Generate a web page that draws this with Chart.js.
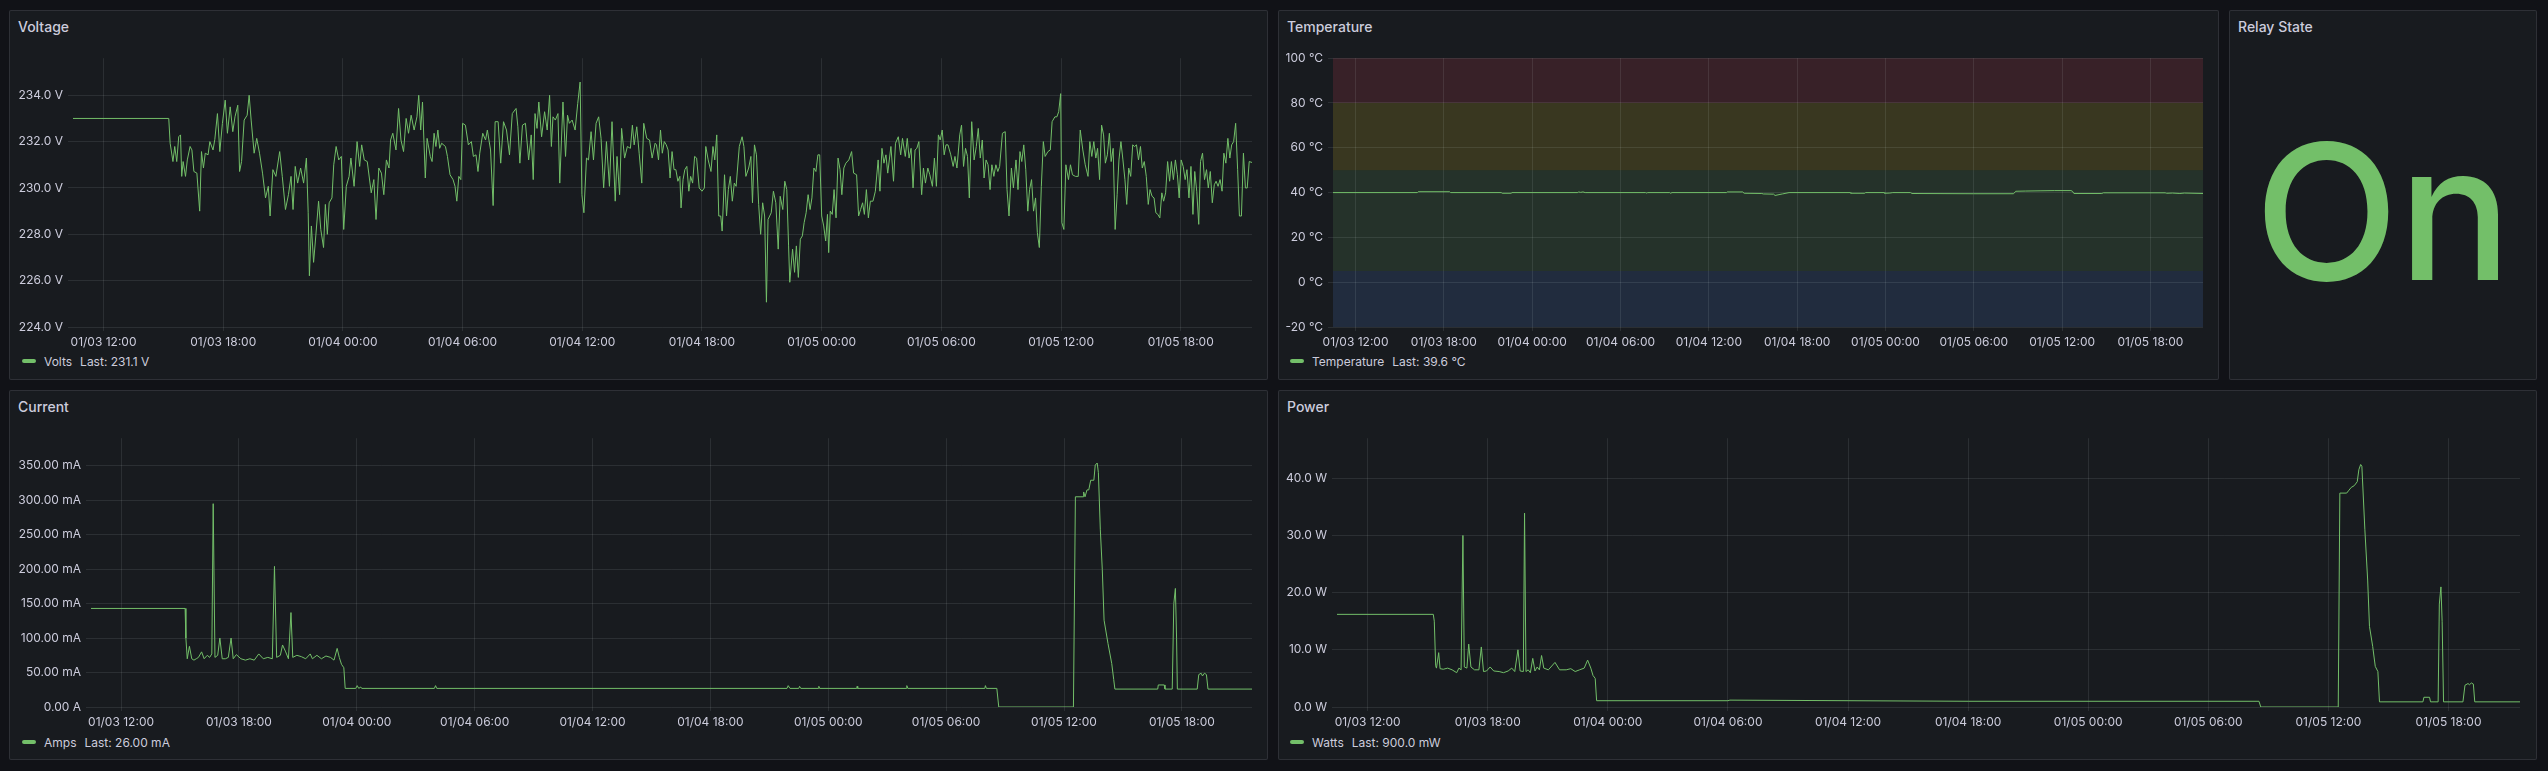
<!DOCTYPE html>
<html>
<head>
<meta charset="utf-8">
<script src="https://cdn.jsdelivr.net/npm/chart.js@4.4.0/dist/chart.umd.min.js"></script>
<style>
  html, body { margin: 0; padding: 0; }
  body { background: #111217; width: 2548px; height: 771px; overflow: hidden; position: relative; font-family: Inter, "Noto Sans", sans-serif; }
  .panel { position: absolute; background: #181b1f; border: 1px solid rgba(204,204,220,0.12); border-radius: 2px; box-sizing: border-box; }
  .title { position: absolute; left: 8px; top: 7px; font-size: 14px; font-weight: 500; line-height: 18px; color: #ccccdc; }
  .box { position: absolute; }
  .legend { position: absolute; height: 16px; display: flex; align-items: center; font-size: 12px; color: #ccccdc; white-space: pre; }
  .legend i { display: inline-block; width: 14px; height: 4px; border-radius: 2px; background: #73BF69; margin-right: 8px; }
  .legend span { margin-left: 8px; }
  .stat { position: absolute; text-align: center; color: #73BF69; font-size: 188px; line-height: 188px; font-weight: 500; }
</style>
</head>
<body>

<div class="panel" style="left:9px;top:10px;width:1259px;height:370px"><div class="title">Voltage</div></div>
<div class="panel" style="left:1278px;top:10px;width:941px;height:370px"><div class="title">Temperature</div></div>
<div class="panel" style="left:2229px;top:10px;width:308px;height:370px"><div class="title">Relay State</div></div>
<div class="panel" style="left:9px;top:390px;width:1259px;height:370px"><div class="title">Current</div></div>
<div class="panel" style="left:1278px;top:390px;width:1259px;height:370px"><div class="title">Power</div></div>

<div class="box" style="left:10px;top:46px;width:1257px;height:307px"><canvas id="voltage"></canvas></div>
<div class="box" style="left:1279px;top:46px;width:939px;height:307px"><canvas id="temperature"></canvas></div>
<div class="box" style="left:10px;top:426px;width:1257px;height:307px"><canvas id="current"></canvas></div>
<div class="box" style="left:1279px;top:426px;width:1257px;height:307px"><canvas id="power"></canvas></div>

<div class="legend" style="left:22px;top:353px"><i></i>Volts<span>Last: 231.1 V</span></div>
<div class="legend" style="left:1290px;top:353px"><i></i>Temperature<span>Last: 39.6 °C</span></div>
<div class="legend" style="left:22px;top:734px"><i></i>Amps<span>Last: 26.00 mA</span></div>
<div class="legend" style="left:1290px;top:734px"><i></i>Watts<span>Last: 900.0 mW</span></div>

<div class="stat" id="relay" style="left:2229px;top:118px;width:308px"></div>

<script>
// time is hours since 01/03 00:00
const timeMin = 10.47;
const timeMax = 69.57;
const timeTicks = [12, 18, 24, 30, 36, 42, 48, 54, 60, 66];
const timeTickLabels = ['01/03 12:00', '01/03 18:00', '01/04 00:00', '01/04 06:00', '01/04 12:00',
  '01/04 18:00', '01/05 00:00', '01/05 06:00', '01/05 12:00', '01/05 18:00'];

const relayState = 'On';

// [hour, volts]
const volts = [[10.47,233],[15.27,233],
[15.34,231.93],[15.48,231.14],[15.57,231.79],[15.67,231.14],[15.77,232.21],[15.86,232.29],[15.92,230.5],[15.99,231.14],[16.11,230.5],[16.2,231.21],[16.34,231.79],[16.43,231.64],[16.53,230.71],[16.68,230.64],[16.82,229.0],[16.91,231.57],[17.01,230.86],[17.1,231.5],[17.24,231.43],[17.33,232.0],[17.49,231.64],[17.58,232.1],[17.71,233.21],[17.83,231.57],[17.96,232.79],[18.1,233.79],[18.21,232.36],[18.35,233.5],[18.48,232.43],[18.59,233.07],[18.73,233.57],[18.82,230.71],[18.92,231.14],[19.05,232.93],[19.2,233.14],[19.3,234.0],[19.4,232.93],[19.55,231.5],[19.68,232.14],[19.82,231.5],[19.97,230.64],[20.12,229.57],[20.26,230.07],[20.35,228.79],[20.49,230.79],[20.64,230.5],[20.83,231.57],[20.96,230.5],[21.12,229.07],[21.27,229.71],[21.4,230.5],[21.5,229.07],[21.61,230.93],[21.73,230.21],[21.88,230.86],[22.03,230.21],[22.17,231.29],[22.26,228.93],[22.32,226.21],[22.42,228.36],[22.53,226.79],[22.64,227.93],[22.78,229.43],[22.89,228.21],[23.03,227.43],[23.12,229.29],[23.22,228.0],[23.31,229.36],[23.45,229.57],[23.54,231.0],[23.66,231.79],[23.79,231.21],[23.92,231.36],[24.04,228.21],[24.17,230.07],[24.31,230.5],[24.4,231.29],[24.56,230.07],[24.71,232.0],[24.84,230.93],[24.94,231.86],[25.07,231.21],[25.22,231.14],[25.42,229.79],[25.55,230.36],[25.66,228.64],[25.8,230.86],[25.93,230.64],[26.05,229.71],[26.18,231.21],[26.31,230.86],[26.39,232.07],[26.5,232.36],[26.66,231.64],[26.79,233.43],[26.91,232.07],[27.04,231.57],[27.17,233.0],[27.29,232.36],[27.42,233.14],[27.57,232.5],[27.71,233.07],[27.8,234.0],[27.9,232.5],[27.99,233.71],[28.13,230.43],[28.22,232.14],[28.38,231.36],[28.47,231.14],[28.57,232.36],[28.66,231.79],[28.76,232.5],[28.85,231.71],[28.95,231.93],[29.14,231.79],[29.24,231.36],[29.37,230.57],[29.52,230.36],[29.62,230.07],[29.71,229.43],[29.81,230.5],[29.91,230.36],[30.0,232.79],[30.14,232.71],[30.29,231.86],[30.44,232.0],[30.54,231.36],[30.67,231.43],[30.77,230.71],[30.86,231.5],[31.01,232.36],[31.15,232.07],[31.24,232.5],[31.4,231.64],[31.53,229.24],[31.63,232.86],[31.78,232.86],[31.91,231.07],[32.05,232.86],[32.2,232.5],[32.35,231.43],[32.49,233.21],[32.68,233.43],[32.77,232.64],[32.87,231.07],[33.0,232.71],[33.15,232.79],[33.31,231.21],[33.44,232.29],[33.54,230.36],[33.63,233.21],[33.73,232.57],[33.82,233.71],[33.96,232.21],[34.11,233.29],[34.24,232.5],[34.36,234.0],[34.45,231.79],[34.53,233.07],[34.65,232.93],[34.78,233.21],[34.87,230.21],[35.03,233.71],[35.16,231.36],[35.26,233.14],[35.35,232.79],[35.49,232.93],[35.64,232.5],[35.77,233.64],[35.89,234.57],[35.98,229.71],[36.08,228.93],[36.21,231.29],[36.31,231.21],[36.44,232.43],[36.56,231.21],[36.69,232.79],[36.82,233.07],[36.94,232.14],[37.07,230.0],[37.21,232.0],[37.36,230.07],[37.49,232.86],[37.65,229.43],[37.74,231.36],[37.87,229.71],[37.97,232.57],[38.12,231.29],[38.26,231.79],[38.41,231.71],[38.51,232.71],[38.6,231.86],[38.73,232.64],[38.85,231.5],[38.98,230.21],[39.08,232.79],[39.23,232.14],[39.37,232.07],[39.5,231.29],[39.65,231.93],
[39.72,231.86],[39.82,231.21],[39.92,232.5],[40.01,231.5],[40.11,232.0],[40.21,231.86],[40.3,231.64],[40.4,230.43],[40.5,231.57],[40.6,230.79],[40.69,230.79],[40.79,230.29],[40.89,230.5],[40.95,229.14],[41.05,230.36],[41.14,230.79],[41.24,230.93],[41.34,229.86],[41.43,230.5],[41.53,230.21],[41.63,231.36],[41.73,231.29],[41.86,230.0],[42.0,229.86],[42.12,230.0],[42.19,231.79],[42.31,231.21],[42.45,230.71],[42.55,231.79],[42.64,231.21],[42.74,232.29],[42.84,228.79],[42.94,228.79],[43.01,228.14],[43.13,230.57],[43.23,228.79],[43.32,229.93],[43.42,230.5],[43.52,229.43],[43.62,230.21],[43.71,230.07],[43.87,231.79],[44.01,232.21],[44.1,231.79],[44.2,230.5],[44.34,230.86],[44.45,231.36],[44.53,229.36],[44.63,231.86],[44.73,231.43],[44.84,229.29],[44.94,228.0],[45.04,229.36],[45.14,228.79],[45.23,225.07],[45.31,228.64],[45.47,228.93],[45.58,229.86],[45.7,229.36],[45.82,227.36],[45.92,229.64],[46.05,229.07],[46.15,230.29],[46.25,229.93],[46.34,227.5],[46.4,225.93],[46.54,227.36],[46.64,226.36],[46.73,227.5],[46.83,226.14],[46.93,227.79],[47.03,227.93],[47.12,228.5],[47.22,228.93],[47.32,229.71],[47.42,229.07],[47.51,229.57],[47.61,230.86],[47.71,230.71],[47.81,231.43],[47.9,231.43],[48.0,228.79],[48.1,228.36],[48.2,227.71],[48.29,228.86],[48.35,227.21],[48.43,229.0],[48.53,228.86],[48.62,229.93],[48.72,228.71],[48.82,231.29],[48.92,230.79],[49.01,229.71],[49.11,230.86],[49.21,231.07],[49.36,231.21],[49.5,231.57],[49.6,230.64],[49.75,230.57],[49.85,228.79],[49.95,229.07],[50.05,229.36],[50.14,228.86],[50.24,229.93],[50.34,228.71],[50.44,229.43],[50.57,229.43],[50.69,229.86],[50.83,231.21],[50.92,229.86],[51.02,231.71],[51.12,231.07],[51.22,231.43],[51.31,230.64],[51.47,231.79],[51.6,230.29],[51.7,231.93],[51.84,232.21],[51.96,231.43],[52.05,232.14],[52.19,231.36],[52.29,232.14],[52.38,231.29],[52.48,231.71],[52.58,230.0],[52.68,231.64],[52.77,231.71],[52.87,232.0],[53.01,229.71],[53.1,230.86],[53.2,230.21],[53.32,230.86],[53.42,230.57],[53.55,230.07],[53.65,231.29],[53.75,230.07],[53.85,232.29],[53.94,232.07],[54.04,232.5],[54.14,231.43],[54.23,231.86],[54.33,231.86],[54.47,231.43],[54.59,230.93],[54.68,231.36],[54.78,230.86],[54.92,232.29],[55.01,232.71],[55.11,230.93],[55.21,231.71],[55.31,231.36],[55.4,229.57],[55.52,232.86],[55.64,231.21],[55.75,231.79],[55.85,232.57],[55.95,231.29],[56.05,232.07],[56.14,230.43],[56.24,231.21],[56.34,231.0],[56.44,229.93],[56.53,231.0],[56.63,230.5],[56.73,231.0],[56.83,230.71],[56.92,230.93],[57.06,232.36],[57.2,232.43],[57.29,229.93],[57.39,228.79],[57.51,230.86],[57.61,230.0],[57.74,231.21],[57.84,229.93],[57.94,231.57],[58.03,231.14],[58.13,231.86],[58.23,230.79],[58.33,229.0],[58.42,229.93],[58.52,230.36],[58.62,229.0],[58.72,229.57],[58.81,228.07],[58.91,227.43],[59.01,230.07],[59.11,232.0],[59.2,231.36],[59.34,231.57],[59.46,231.64],[59.55,232.86],[59.69,233.07],[59.79,233.07],[59.88,233.29],[59.98,234.07],[60.04,228.5],[60.14,228.21],[60.24,231.0],[60.37,230.36],[60.47,231.0],[60.57,230.57],[60.72,230.5],[60.86,230.5],[60.96,232.5],[61.09,231.64],[61.21,231.0],[61.35,230.5],[61.44,232.0],[61.54,231.36],[61.64,232.0],[61.74,231.29],[61.83,231.71],[61.93,230.36],[62.03,232.71],[62.13,232.29],[62.22,231.07],[62.32,231.43],[62.42,232.36],[62.51,231.14],[62.61,231.71],[62.71,228.21],[62.81,229.71],[62.9,231.21],[63.0,232.0],[63.1,231.21],[63.2,230.36],[63.29,229.29],[63.39,230.86],[63.49,230.5],[63.59,231.86],[63.68,231.79],[63.78,231.86],[63.88,231.21],[63.98,231.79],[64.07,230.86],[64.17,231.14],[64.27,230.5],[64.37,229.29],[64.46,229.93],[64.56,229.64],[64.66,229.57],[64.75,228.93],[64.85,228.86],[64.95,228.71],[65.05,229.79],[65.14,229.43],[65.24,229.79],[65.34,231.14],[65.44,230.29],[65.53,231.14],[65.63,230.36],[65.73,231.21],[65.83,230.57],[65.92,229.57],[66.02,231.21],[66.12,230.93],[66.22,230.36],[66.31,230.79],[66.41,229.57],[66.51,230.93],[66.61,228.86],[66.7,230.71],[66.8,229.86],[66.9,228.43],[66.99,231.14],[67.09,231.5],[67.19,230.36],[67.29,230.79],[67.38,230.0],[67.48,230.71],[67.58,229.36],[67.68,230.14],[67.77,230.29],[67.87,230.07],[67.97,230.36],[68.07,229.86],[68.16,231.5],[68.26,231.07],[68.36,232.14],[68.46,231.29],[68.55,231.86],[68.65,232.0],[68.75,232.79],[68.85,230.79],[68.94,228.79],[69.04,228.79],[69.14,231.5],[69.24,230.0],[69.33,230.0],[69.43,231.14],[69.57,231.1]];

// [hour, °C]
const temperature = [[10.47,40.0],[16.2,40.0],[16.26,40.4],[18.4,40.4],[18.46,40.0],[21.9,40.0],[21.96,39.7],[22.57,39.7],[22.63,40.0],[27.1,40.0],[27.14,40.3],[27.3,40.1],[27.45,40.3],[27.6,40.0],[31.7,40.0],[31.75,39.8],[31.85,40.0],[33.35,40.0],[33.4,39.7],[33.5,40.0],[37.2,40.0],[37.25,40.3],[38.3,40.3],[38.4,39.7],[39.6,39.6],[39.7,39.4],[40.4,39.3],[40.5,38.7],[40.7,39.0],[41.0,39.4],[41.45,40.0],[45.6,40.0],[45.65,39.7],[46.6,39.7],[46.65,40.0],[47.9,40.0],[47.95,39.7],[48.3,39.8],[48.5,40.0],[49.7,40.0],[49.8,39.6],[54.0,39.5],[56.7,39.5],[56.85,40.6],[57.5,40.7],[58.5,40.8],[59.5,40.9],[60.6,40.9],[60.7,40.6],[60.8,39.6],[62.7,39.6],[62.8,39.9],[67.0,39.9],[67.1,39.7],[67.5,39.8],[68.0,39.6],[68.3,39.8],[69.57,39.6]];

// [hour, mA]
const current = [[10.47,143],[15.26,143],[15.3,100],[15.37,70],[15.48,88],[15.6,70],[15.71,68],[15.83,70],[15.94,72],[16.1,80],[16.23,70],[16.39,75],[16.51,72],[16.62,77],[16.69,295],[16.78,72],[16.92,75],[17.03,100],[17.15,70],[17.31,70],[17.46,72],[17.6,100],[17.71,70],[17.87,76],[18.1,70],[18.33,68],[18.56,70],[18.78,68],[19.01,77],[19.24,70],[19.47,72],[19.7,70],[19.81,204],[19.92,72],[20.11,75],[20.22,90],[20.38,80],[20.52,70],[20.65,137],[20.74,72],[20.95,75],[21.18,73],[21.4,70],[21.63,77],[21.74,70],[21.97,75],[22.2,70],[22.43,74],[22.66,72],[22.84,68],[23.0,85],[23.11,72],[23.22,62],[23.34,57],[23.41,27],[23.95,27],[24.02,31],[24.1,27],[24.2,29],[24.25,27],[27.95,27],[28.01,31],[28.07,27],[45.9,27],[45.96,31],[46.05,27],[46.5,27],[46.54,30],[46.6,27],[47.5,27],[47.52,30],[47.56,27],[49.45,27],[49.47,30],[49.5,27],[51.98,27],[52.0,31],[52.05,27],[55.97,27],[56.0,31],[56.05,27],[56.58,27],[56.68,0],[60.48,0],[60.58,305],[60.97,305],[61.0,312],[61.07,305],[61.17,315],[61.26,315],[61.36,329],[61.52,329],[61.59,351],[61.69,354],[61.75,340],[61.85,257],[61.95,199],[62.04,126],[62.24,92],[62.43,63],[62.53,40],[62.59,26],[64.77,26],[64.8,32],[65.1,32],[65.14,26],[65.51,26],[65.59,150],[65.67,172],[65.73,100],[65.77,26],[66.78,26],[66.86,47],[66.98,49],[67.05,45],[67.15,49],[67.25,47],[67.33,26],[69.57,26]];

// [hour, W]
const power = [[10.47,16.2],[15.28,16.2],[15.33,15.0],[15.4,7.2],[15.44,6.8],[15.55,9.5],[15.62,6.7],[15.78,6.6],[16.0,6.8],[16.22,6.5],[16.45,6.0],[16.56,6.8],[16.67,6.5],[16.76,30.0],[16.83,7.0],[16.96,6.8],[17.05,11.0],[17.16,7.0],[17.34,6.5],[17.56,6.5],[17.68,10.5],[17.79,6.2],[17.94,6.3],[18.12,7.0],[18.3,6.3],[18.57,6.2],[18.79,6.0],[19.02,6.3],[19.2,6.8],[19.35,6.2],[19.51,10.0],[19.62,6.3],[19.78,6.2],[19.84,33.9],[19.91,6.2],[20.02,6.5],[20.13,6.0],[20.25,8.5],[20.36,6.3],[20.47,7.0],[20.58,6.5],[20.69,9.0],[20.8,6.8],[21.03,6.5],[21.36,7.8],[21.59,6.5],[21.92,6.5],[22.15,6.7],[22.37,6.2],[22.59,6.5],[22.82,6.8],[22.99,8.2],[23.15,6.8],[23.26,5.5],[23.37,5.0],[23.44,1.1],[30.0,1.1],[30.1,1.2],[36.0,1.1],[42.0,1.0],[56.53,1.0],[56.62,0],[60.49,0],[60.57,37.4],[60.91,37.4],[61.0,37.8],[61.14,38.4],[61.29,38.7],[61.44,39.4],[61.52,41.5],[61.61,42.4],[61.67,42.1],[61.82,31.0],[61.96,22.2],[62.05,14.1],[62.21,10.6],[62.34,7.1],[62.47,6.2],[62.55,0.9],[64.72,0.9],[64.77,1.7],[65.05,1.7],[65.1,0.9],[65.48,0.9],[65.54,18.0],[65.62,21.0],[65.68,15.0],[65.75,0.9],[66.72,0.9],[66.82,3.8],[66.97,4.1],[67.05,3.9],[67.14,4.2],[67.24,4.0],[67.31,0.9],[69.57,0.9]];

const voltTicks = [224, 226, 228, 230, 232, 234];
const voltTickLabels = ['224.0 V', '226.0 V', '228.0 V', '230.0 V', '232.0 V', '234.0 V'];
const tempTicks = [-20, 0, 20, 40, 60, 80, 100];
const tempTickLabels = ['-20 °C', '0 °C', '20 °C', '40 °C', '60 °C', '80 °C', '100 °C'];
const currentTicks = [0, 50, 100, 150, 200, 250, 300, 350];
const currentTickLabels = ['0.00 A', '50.00 mA', '100.00 mA', '150.00 mA', '200.00 mA', '250.00 mA', '300.00 mA', '350.00 mA'];
const powerTicks = [0, 10, 20, 30, 40];
const powerTickLabels = ['0.0 W', '10.0 W', '20.0 W', '30.0 W', '40.0 W'];

// temperature threshold bands (base blue, 5 green, 50 yellow, 80 red)
const tempBandFrom = [-20, 5, 50, 80];
const tempBandTo = [5, 50, 80, 100];
const tempBandColors = ['rgba(87,148,242,0.15)', 'rgba(115,191,105,0.15)', 'rgba(250,222,42,0.15)', 'rgba(242,73,92,0.15)'];

Chart.defaults.font.family = 'Inter, "Noto Sans", sans-serif';
Chart.defaults.font.size = 12;
Chart.defaults.color = '#ccccdc';

const gridColor = 'rgba(240,250,255,0.09)';
const lineColor = '#73BF69';

const thresholdBands = {
    id: 'thresholdBands',
    beforeDraw: (chart) => {
        const { ctx, chartArea, scales } = chart;
        ctx.save();
        tempBandFrom.forEach((from, i) => {
            const yTop = scales.y.getPixelForValue(tempBandTo[i]);
            const yBot = scales.y.getPixelForValue(from);
            ctx.fillStyle = tempBandColors[i];
            ctx.fillRect(chartArea.left, yTop, chartArea.right - chartArea.left, yBot - yTop);
        });
        ctx.restore();
    }
};

function timeChart(id, points, yMin, yMax, yTicks, yLabels, axisWidth, padRight, plugins = []) {
    const ctx = document.getElementById(id).getContext('2d');
    return new Chart(ctx, {
        type: 'line',
        data: {
            datasets: [{
                data: points.map(p => ({ x: p[0], y: p[1] })),
                borderColor: lineColor,
                borderWidth: 1,
                pointRadius: 0,
                tension: 0,
                fill: false
            }]
        },
        options: {
            responsive: true, maintainAspectRatio: false,
            animation: false,
            devicePixelRatio: 1,
            layout: { padding: { top: 12, right: padRight, left: 0, bottom: 0 } },
            plugins: { legend: { display: false }, tooltip: { enabled: false } },
            scales: {
                x: {
                    type: 'linear', min: timeMin, max: timeMax, bounds: 'data',
                    afterBuildTicks: s => { s.ticks = timeTicks.map(v => ({ value: v })); },
                    afterFit: s => { s.height = 26; },
                    ticks: { autoSkip: false, maxRotation: 0, padding: 4, color: '#ccccdc',
                             callback: (v, i) => timeTickLabels[i] },
                    grid: { color: gridColor, tickLength: 4, drawTicks: true },
                    border: { display: false }
                },
                y: {
                    type: 'linear', min: yMin, max: yMax, bounds: 'data',
                    afterBuildTicks: s => { s.ticks = yTicks.map(v => ({ value: v })); },
                    afterFit: s => { s.width = axisWidth; },
                    ticks: { padding: 5, color: '#ccccdc', callback: (v, i) => yLabels[i] },
                    grid: { color: gridColor, tickLength: 5, drawTicks: true },
                    border: { display: false }
                }
            }
        },
        plugins
    });
}

timeChart('voltage', volts, 224, 235.6, voltTicks, voltTickLabels, 63, 15);
timeChart('temperature', temperature, -20, 100, tempTicks, tempTickLabels, 54, 15, [thresholdBands]);
timeChart('current', current, 0, 390, currentTicks, currentTickLabels, 81, 15);
timeChart('power', power, 0, 47, powerTicks, powerTickLabels, 58, 16);

document.getElementById('relay').textContent = relayState;
</script>
</body>
</html>
